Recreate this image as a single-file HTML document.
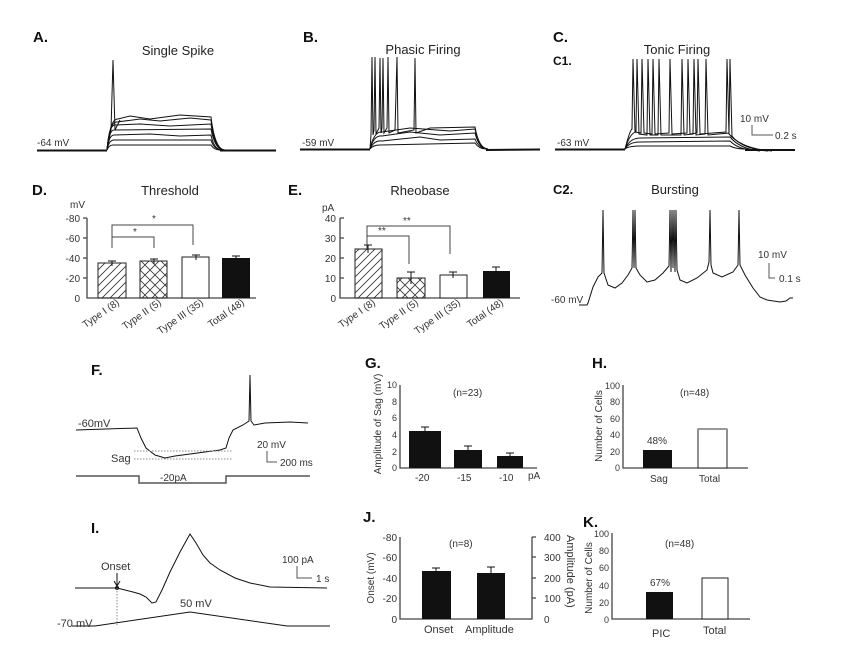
<!DOCTYPE html>
<html><head><meta charset="utf-8"><style>
body{margin:0;background:#fff}
svg{display:block;font-family:"Liberation Sans",Arial,sans-serif}
.t{fill:#222;font-size:13px}
.s{fill:#333;font-size:10px}
.L{font-weight:bold;font-size:15px;fill:#111}
.k{stroke:#111;fill:none;stroke-width:1}
.ax{stroke:#444;fill:none;stroke-width:1.3}
</style></head><body>
<svg width="845" height="646" viewBox="0 0 845 646">
<defs>
<pattern id="hat" width="8" height="8" patternUnits="userSpaceOnUse"><path d="M-2,10 L10,-2 M-2,2 L2,-2 M6,10 L10,6" stroke="#333" stroke-width="0.8"/></pattern>
<pattern id="cross" width="10" height="10" patternUnits="userSpaceOnUse"><path d="M0,0 L10,10 M10,0 L0,10" stroke="#333" stroke-width="0.8"/></pattern>
</defs>
<text x="33" y="42" class="L">A.</text>
<text x="303" y="42" class="L">B.</text>
<text x="553" y="42" class="L">C.</text>
<text x="553" y="65" class="L" style="font-size:12px">C1.</text>
<text x="178" y="55" class="t" text-anchor="middle">Single Spike</text>
<text x="423" y="54" class="t" text-anchor="middle">Phasic Firing</text>
<text x="677" y="54" class="t" text-anchor="middle">Tonic Firing</text>
<!-- A -->
<g class="k">
<path d="M107,150 Q109,145 113,145 L211,145 Q214,150 220,150"/>
<path d="M107,150 Q109,140 114,140 L211,140 Q214,150 222,150"/>
<path d="M107,150 Q109,135 114,135 L150,134 L180,136 L211,135 Q214,150 222,150"/>
<path d="M107,150 Q109,130 114,130 L211,129 Q215,150 224,150"/>
<path d="M107,150 Q109,125 115,125 L140,124 L170,126 L211,124 Q215,150 224,150"/>
<path d="M107,150 Q110,121 117,122 L140,119 L160,121 L190,118 L211,120 Q215,150 224,150"/>
<path d="M107,150 Q110,118 118,119 L130,116 L150,119 L165,117 L180,115 L211,117 Q215,150 225,150"/>
<path d="M107,150 L111,130 L113,60 L115,130 L120,120"/>
<path d="M37,150.5 L107,150.5 M220,150.5 L276,150.5" stroke-width="2"/>
</g>
<text x="37" y="146" class="s">-64 mV</text>
<!-- B -->
<g class="k">
<path d="M370,149 Q373,145 380,145 L475,143 Q479,149 486,149"/>
<path d="M370,149 Q374,140 382,141 L420,137 L440,140 L475,139 Q479,149 488,149"/>
<path d="M370,149 Q374,135 382,136 L410,132 L440,135 L475,133 Q479,149 488,149"/>
<path d="M370,149 Q374,131 382,132 L410,128 L450,131 L475,129 Q479,149 488,149"/>
<path d="M370,149 L371,135 L372,57 L373,135 L374,130 L375,57 L376,134 L379,128 L380,58 L381,133 L382,128 L383,58 L384,133 L387,128 L388,57 L389,133 L395,130 L397,57 L398,133 L414,130 L415,58 L416,133 L430,128 L475,127 Q479,149 488,149"/>
<path d="M300,149.5 L370,149.5 M486,150 L540,149.5" stroke-width="2"/>
</g>
<text x="302" y="146" class="s">-59 mV</text>
<!-- C1 -->
<g class="k">
<path d="M625,149 Q628,146 640,146 L730,146 Q736,149 745,149"/>
<path d="M625,149 Q629,142 640,142 L730,141 Q738,149 752,150"/>
<path d="M625,149 Q630,138 640,138 L730,137 Q740,149 760,151"/>
<path d="M625,149 Q630,133 636,132 L637,59 L639,134 L647,135 L648,59 L650,135 L658,135 L659,59 L661,135 L681,135 L682,59 L684,135 L693,134 L694,59 L696,135 L705,134 L706,59 L708,135 L729,133 L730,59 L732,136 Q742,149 768,151"/>
<path d="M625,149 Q630,130 632,129 L633,59 L635,132 L641,133 L642,59 L644,133 L652,134 L653,59 L655,134 L669,133 L670,59 L672,134 L687,133 L688,59 L690,134 L697,133 L698,59 L700,134 L726,132 L727,59 L729,134 Q742,149 772,151"/>
<path d="M555,149.5 L625,149.5 M745,150 L795,150" stroke-width="2"/>
</g>
<text x="557" y="146" class="s">-63 mV</text>
<text x="740" y="122" class="s">10 mV</text>
<path d="M752,125 L752,135 L773,135" stroke="#555" fill="none"/>
<text x="775" y="139" class="s">0.2 s</text>
<!-- D -->
<text x="32" y="195" class="L">D.</text>
<text x="170" y="195" class="t" text-anchor="middle">Threshold</text>
<text x="70" y="208" class="s">mV</text>
<g class="s" text-anchor="end">
<text x="80" y="222">-80</text><text x="80" y="242">-60</text><text x="80" y="262">-40</text><text x="80" y="282">-20</text><text x="80" y="302">0</text></g>
<path d="M87,218 L87,298 L256,298 M83,218 L87,218 M83,238 L87,238 M83,258 L87,258 M83,278 L87,278" class="ax"/>
<rect x="98" y="263" width="28" height="35" fill="url(#hat)" stroke="#222"/>
<rect x="140" y="261" width="27" height="37" fill="url(#cross)" stroke="#222"/>
<rect x="182" y="257" width="27" height="41" fill="#fff" stroke="#222"/>
<rect x="222" y="258" width="28" height="40" fill="#111"/>
<path d="M112,261 L112,266 M108,261 L116,261 M154,259 L154,264 M150,259 L158,259 M196,255 L196,260 M192,255 L200,255 M236,256 L236,260 M232,256 L240,256" class="k"/>
<path d="M112,248 L112,237 L154,237 L154,248 M112,237 L112,225 L193,225 L193,245" stroke="#444" fill="none"/>
<text x="133" y="235" class="s">*</text><text x="152" y="222" class="s">*</text>
<g class="s" text-anchor="end">
<text transform="translate(120,304) rotate(-35)">Type I (8)</text>
<text transform="translate(162,304) rotate(-35)">Type II (5)</text>
<text transform="translate(204,304) rotate(-35)">Type III (35)</text>
<text transform="translate(245,304) rotate(-35)">Total (48)</text></g>
<!-- E -->
<text x="288" y="195" class="L">E.</text>
<text x="420" y="195" class="t" text-anchor="middle">Rheobase</text>
<text x="322" y="211" class="s">pA</text>
<g class="s" text-anchor="end">
<text x="336" y="222">40</text><text x="336" y="242">30</text><text x="336" y="262">20</text><text x="336" y="282">10</text><text x="336" y="302">0</text></g>
<path d="M340,218 L340,298 L520,298 M340,218 L344,218 M340,238 L344,238 M340,258 L344,258 M340,278 L344,278" class="ax"/>
<rect x="355" y="249" width="27" height="49" fill="url(#hat)" stroke="#222"/>
<rect x="397" y="278" width="28" height="20" fill="url(#cross)" stroke="#222"/>
<rect x="440" y="275" width="27" height="23" fill="#fff" stroke="#222"/>
<rect x="483" y="271" width="27" height="27" fill="#111"/>
<path d="M368,245 L368,253 M364,245 L372,245 M411,272 L411,284 M407,272 L415,272 M453,272 L453,278 M449,272 L457,272 M496,267 L496,275 M492,267 L500,267" class="k"/>
<path d="M367,250 L367,236 L409,236 L409,264 M367,236 L367,226 L450,226 L450,254" stroke="#444" fill="none"/>
<text x="378" y="234" class="s">**</text><text x="403" y="224" class="s">**</text>
<g class="s" text-anchor="end">
<text transform="translate(376,304) rotate(-35)">Type I (8)</text>
<text transform="translate(419,304) rotate(-35)">Type II (5)</text>
<text transform="translate(461,304) rotate(-35)">Type III (35)</text>
<text transform="translate(504,304) rotate(-35)">Total (48)</text></g>
<!-- C2 -->
<text x="553" y="194" class="L" style="font-size:13px">C2.</text>
<text x="675" y="194" class="t" text-anchor="middle">Bursting</text>
<path class="k" d="M579,305 L587,305 L588,303 L593,287 L598,277 L602,273 L603,210 L604,273 L608,285 L615,288 L622,283 L628,275 L632,268 L633,210 L634,268 L635,210 L636,268 L640,275 L647,282 L655,280 L663,273 L669,266 L670,210 L671,272 L672,210 L673,268 L674,210 L675,272 L676,210 L677,270 L680,280 L687,283 L697,278 L707,270 L709,262 L710,210 L711,265 L713,273 L722,277 L733,272 L738,265 L739,210 L740,265 L745,275 L753,288 L760,297 L767,300 L780,302 L786,301 L790,298 L793,298"/>
<text x="551" y="303" class="s">-60 mV</text>
<text x="758" y="258" class="s">10 mV</text>
<path d="M769,263 L769,278 L775,278" stroke="#555" fill="none"/>
<text x="779" y="282" class="s">0.1 s</text>
<!-- F -->
<text x="91" y="375" class="L">F.</text>
<text x="78" y="427" class="s" style="font-size:11px">-60mV</text>
<path class="k" stroke-width="1.2" d="M76,430 L137,428 L141,438 L146,448 L155,455 L165,458 L175,456 L190,454 L205,452 L220,450 L226,448 L229,438 L233,430 L243,425 L249,421 L250,375 L251,421 L254,425 L265,423 L290,422 L308,423"/>
<path d="M134,451 L232,451 M134,459 L232,459" stroke="#888" stroke-dasharray="1.5,1.5" fill="none"/>
<text x="111" y="462" class="s" style="font-size:11px">Sag</text>
<text x="257" y="448" class="s">20 mV</text>
<path d="M267,451 L267,462 L277,462" stroke="#555" fill="none"/>
<text x="280" y="466" class="s">200 ms</text>
<path d="M76,476 L139,476 L139,483 L226,483 L226,476 L310,476" stroke="#555" fill="none" stroke-width="1.5"/>
<text x="160" y="481" class="s">-20pA</text>
<!-- G -->
<text x="365" y="368" class="L">G.</text>
<text transform="translate(381,424) rotate(-90)" class="s" text-anchor="middle">Amplitude of Sag (mV)</text>
<g class="s" text-anchor="end" style="font-size:9px">
<text x="397" y="388">10</text><text x="397" y="405">8</text><text x="397" y="421">6</text><text x="397" y="438">4</text><text x="397" y="455">2</text><text x="397" y="471">0</text></g>
<path d="M400,385 L400,468 L537,468" class="ax"/>
<rect x="409" y="431" width="32" height="37" fill="#111"/>
<rect x="454" y="450" width="28" height="18" fill="#111"/>
<rect x="497" y="456" width="26" height="12" fill="#111"/>
<path d="M425,427 L425,431 M421,427 L429,427 M468,446 L468,450 M464,446 L472,446 M510,453 L510,456 M506,453 L514,453" class="k"/>
<text x="453" y="396" class="s">(n=23)</text>
<g class="s"><text x="415" y="481">-20</text><text x="457" y="481">-15</text><text x="499" y="481">-10</text><text x="528" y="479">pA</text></g>
<!-- H -->
<text x="592" y="368" class="L">H.</text>
<text transform="translate(602,426) rotate(-90)" class="s" text-anchor="middle">Number of Cells</text>
<g class="s" text-anchor="end" style="font-size:9px">
<text x="620" y="389">100</text><text x="620" y="405">80</text><text x="620" y="422">60</text><text x="620" y="438">40</text><text x="620" y="455">20</text><text x="620" y="471">0</text></g>
<path d="M623,385 L623,468 L748,468" class="ax"/>
<rect x="643" y="450" width="29" height="18" fill="#111"/>
<rect x="698" y="429" width="29" height="39" fill="#fff" stroke="#222"/>
<path d="M698,429 L727,429" stroke="#999" stroke-width="2"/>
<text x="647" y="444" class="s">48%</text>
<text x="680" y="396" class="s">(n=48)</text>
<text x="650" y="482" class="s">Sag</text><text x="699" y="482" class="s">Total</text>
<!-- I -->
<text x="91" y="533" class="L">I.</text>
<path class="k" stroke-width="1.2" d="M75,588 L117,588 L125,590 L133,592 L140,594 L146,597 L152,603 L156,602 L162,590 L170,572 L180,552 L190,534 L196,543 L203,555 L210,563 L220,570 L235,578 L250,583 L270,587 L327,588"/>
<circle cx="117" cy="588" r="2" fill="#111"/>
<path d="M117,588 L117,625" stroke="#888" stroke-dasharray="1.5,1.5"/>
<text x="101" y="570" class="s" style="font-size:11px">Onset</text>
<path d="M117,573 L117,585 M114,581 L117,586 L120,581" stroke="#111" fill="none"/>
<path d="M72,626 L95,626 L190,612 L287,626 L330,626" class="k" stroke-width="1.2"/>
<text x="57" y="627" class="s" style="font-size:11px">-70 mV</text>
<text x="180" y="607" class="s" style="font-size:11px">50 mV</text>
<text x="282" y="563" class="s">100 pA</text>
<path d="M297,566 L297,578 L312,578" stroke="#555" fill="none"/>
<text x="316" y="582" class="s">1 s</text>
<!-- J -->
<text x="363" y="522" class="L">J.</text>
<text transform="translate(374,578) rotate(-90)" class="s" text-anchor="middle">Onset (mV)</text>
<g class="s" text-anchor="end"><text x="397" y="541">-80</text><text x="397" y="561">-60</text><text x="397" y="582">-40</text><text x="397" y="602">-20</text><text x="397" y="623">0</text></g>
<g class="s"><text x="544" y="541">400</text><text x="544" y="561">300</text><text x="544" y="582">200</text><text x="544" y="602">100</text><text x="544" y="623">0</text></g>
<path d="M400,537 L400,619 L532,619 L532,537 M532,557 L536,557 M532,578 L536,578 M532,598 L536,598 M532,537 L536,537" class="ax"/>
<rect x="422" y="571" width="29" height="48" fill="#111"/>
<rect x="477" y="573" width="28" height="46" fill="#111"/>
<path d="M436,568 L436,571 M432,568 L440,568 M491,567 L491,573 M487,567 L495,567" class="k"/>
<text x="449" y="547" class="s">(n=8)</text>
<text transform="translate(567,535) rotate(90)" class="s" style="font-size:11px">Amplitude (pA)</text>
<text x="424" y="633" class="s" style="font-size:11px">Onset</text><text x="465" y="633" class="s" style="font-size:11px">Amplitude</text>
<!-- K -->
<text x="583" y="527" class="L">K.</text>
<text transform="translate(592,578) rotate(-90)" class="s" text-anchor="middle">Number of Cells</text>
<g class="s" text-anchor="end" style="font-size:9px"><text x="609" y="537">100</text><text x="609" y="554">80</text><text x="609" y="571">60</text><text x="609" y="589">40</text><text x="609" y="606">20</text><text x="609" y="623">0</text></g>
<path d="M612,533 L612,619 L750,619" class="ax"/>
<rect x="646" y="592" width="27" height="27" fill="#111"/>
<rect x="702" y="578" width="26" height="41" fill="#fff" stroke="#222"/>
<text x="650" y="586" class="s">67%</text>
<text x="665" y="547" class="s">(n=48)</text>
<text x="652" y="637" class="s" style="font-size:11px">PIC</text><text x="703" y="634" class="s" style="font-size:11px">Total</text>
</svg>
</body></html>
